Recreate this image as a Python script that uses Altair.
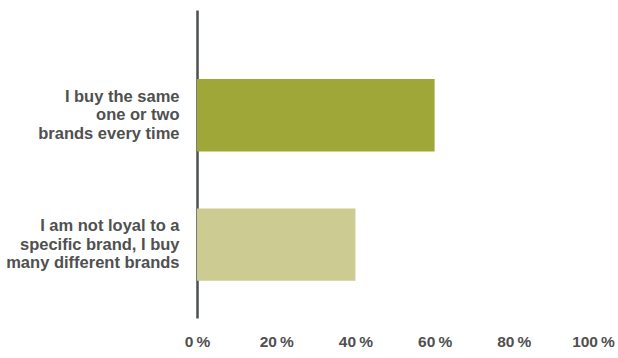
import altair as alt
import pandas as pd

categories = [
    "I buy the same\u00a0|one or two\u00a0|brands every time",
    "I am not loyal to a\u00a0|specific brand, I buy|many different brands",
]
values = [60, 40]
colors = ["#9fa739", "#cbcb92"]

df = pd.DataFrame({"category": categories, "value": values, "color": colors})

chart = (
    alt.Chart(df)
    .mark_bar()
    .encode(
        y=alt.Y(
            "category:N",
            sort=categories,
            scale=alt.Scale(paddingInner=0.44, paddingOuter=0.41, align=0.65),
            axis=alt.Axis(
                title=None,
                ticks=False,
                labelExpr="split(datum.label, '|')",
                labelFont="Liberation Sans",
                labelFontWeight="bold",
                labelFontSize=16.5,
                labelColor="#505050",
                labelLineHeight=18.5,
                labelPadding=18,
                labelOffset=-18.5,
                labelLimit=300,
                domainColor="#4a4f4f",
                domainWidth=2.5,
                grid=False,
            ),
        ),
        x=alt.X(
            "value:Q",
            scale=alt.Scale(domain=[0, 100]),
            axis=alt.Axis(
                title=None,
                values=[0, 20, 40, 60, 80, 100],
                labelExpr="datum.value + '\u2009%'",
                ticks=False,
                domain=False,
                grid=False,
                labelFont="Liberation Sans",
                labelFontWeight="bold",
                labelFontSize=15.5,
                labelColor="#505050",
                labelPadding=16,
                labelFlush=False,
            ),
        ),
        color=alt.Color("color:N", scale=None),
    )
    .properties(
        width=396,
        height=308,
        autosize=alt.AutoSizeParams(type="none"),
        padding={"left": 197, "top": 10, "right": 25, "bottom": 40},
    )
    .configure_view(stroke=None)
)

chart.save("out.html", embed_options={"renderer": "svg", "actions": False})
